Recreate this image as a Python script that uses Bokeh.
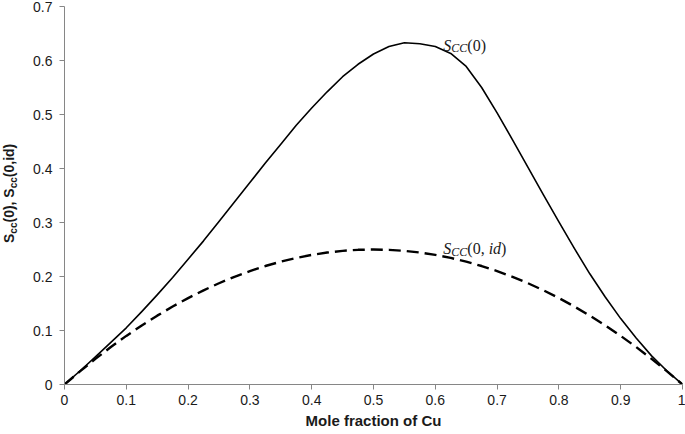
from bokeh.plotting import figure
from bokeh.layouts import row
from bokeh.models import Label, FixedTicker, CustomJSTickFormatter, Range1d, Div
from bokeh.embed import file_html
from bokeh.resources import INLINE

# ---- data ----
mole_fraction = [0, 0.025, 0.05, 0.075, 0.1, 0.125, 0.15, 0.175, 0.2, 0.225, 0.25,
                 0.275, 0.3, 0.325, 0.35, 0.375, 0.4, 0.425, 0.45, 0.475, 0.5,
                 0.525, 0.55, 0.575, 0.6, 0.625, 0.65, 0.675, 0.7, 0.725, 0.75,
                 0.775, 0.8, 0.825, 0.85, 0.875, 0.9, 0.925, 0.95, 0.975, 1.0]
scc0 = [0, 0.025, 0.051, 0.078, 0.105, 0.135, 0.166, 0.198, 0.232, 0.266, 0.302,
        0.338, 0.374, 0.410, 0.445, 0.480, 0.512, 0.542, 0.570, 0.593, 0.612,
        0.626, 0.633, 0.631, 0.626, 0.613, 0.589, 0.550, 0.503, 0.453, 0.402,
        0.351, 0.301, 0.252, 0.205, 0.162, 0.122, 0.086, 0.053, 0.025, 0]
scc0_id = [0, 0.0244, 0.0475, 0.0694, 0.09, 0.1094, 0.1275, 0.1444, 0.16, 0.1744, 0.1875,
           0.1994, 0.21, 0.2194, 0.2275, 0.2344, 0.24, 0.2444, 0.2475, 0.2494, 0.25,
           0.2494, 0.2475, 0.2444, 0.24, 0.2344, 0.2275, 0.2194, 0.21, 0.1994, 0.1875,
           0.1744, 0.16, 0.1444, 0.1275, 0.1094, 0.09, 0.0694, 0.0475, 0.0244, 0]

x_ticks = [0, 0.1, 0.2, 0.3, 0.4, 0.5, 0.6, 0.7, 0.8, 0.9, 1]
x_tick_labels = ["0", "0.1", "0.2", "0.3", "0.4", "0.5", "0.6", "0.7", "0.8", "0.9", "1"]
y_ticks = [0, 0.1, 0.2, 0.3, 0.4, 0.5, 0.6, 0.7]
y_tick_labels = ["0", "0.1", "0.2", "0.3", "0.4", "0.5", "0.6", "0.7"]

x_title = "Mole fraction of Cu"
y_title_pieces = ["S", "cc", "(0), S", "cc", "(0,id)"]
y_title_is_sub = [False, True, False, True, False]
label1_pos = (0.613, 0.628)
label2_pos = (0.613, 0.251)

# ---- style ----
AX = "#868686"
TXT = "#1a1a1a"
SANS = "Liberation Sans"
SERIF = "Liberation Serif"
W, H = 685, 434
LAB_W = 22

# ---- rotated y-axis title (HTML so the subscripts lay out naturally) ----
parts = []
for txt, sub in zip(y_title_pieces, y_title_is_sub):
    if sub:
        parts.append(f'<span style="font-size:10px;vertical-align:-3px">{txt}</span>')
    else:
        parts.append(txt)
y_html = ('<div style="width:max-content;white-space:nowrap;font-family:\'Liberation Sans\',Arial,sans-serif;'
          f'font-weight:bold;font-size:14px;line-height:14px;color:{TXT};margin:0;padding:0;'
          'transform-origin:0 0;transform:translate(1.5px,243px) rotate(-90deg);">'
          + "".join(parts) + '</div>')
ylab = Div(text=y_html, width=LAB_W, height=H, margin=0)

# ---- main plot ----
p = figure(width=W - LAB_W, height=H, output_backend="svg", toolbar_location=None,
           x_range=Range1d(0, 1), y_range=Range1d(0, 0.7),
           min_border_left=64 - LAB_W, min_border_right=3, min_border_top=6, min_border_bottom=50)
p.outline_line_color = None
p.xgrid.visible = False
p.ygrid.visible = False

for ax, ticks, labels in ((p.xaxis[0], x_ticks, x_tick_labels), (p.yaxis[0], y_ticks, y_tick_labels)):
    ax.ticker = FixedTicker(ticks=ticks)
    ax.formatter = CustomJSTickFormatter(args=dict(labels=labels), code="return labels[index];")
    ax.axis_line_color = AX
    ax.axis_line_width = 1
    ax.major_tick_line_color = AX
    ax.major_tick_in = 0
    ax.major_tick_out = 5
    ax.minor_tick_line_color = None
    ax.major_label_text_font = SANS
    ax.major_label_text_font_size = "14px"
    ax.major_label_text_color = TXT
p.xaxis[0].major_label_standoff = 5
p.yaxis[0].major_label_standoff = 7

p.xaxis[0].axis_label = x_title
p.xaxis[0].axis_label_text_font = SANS
p.xaxis[0].axis_label_text_font_size = "15px"
p.xaxis[0].axis_label_text_font_style = "bold"
p.xaxis[0].axis_label_text_color = TXT
p.xaxis[0].axis_label_standoff = 4

p.line(mole_fraction, scc0, line_color="black", line_width=1.6, line_join="round")
p.line(mole_fraction, scc0_id, line_color="black", line_width=2.4, line_dash="12 6")

# ---- in-plot annotations ----
def math_label(pos, pieces):
    off = 0.0
    for txt, style, fs, yoff, w in pieces:
        p.add_layout(Label(x=pos[0], y=pos[1], x_offset=off, y_offset=yoff, text=txt,
                           text_font=SERIF, text_font_style=style, text_font_size=f"{fs}px",
                           text_color=TXT, text_align="left", text_baseline="alphabetic"))
        off += w * fs

math_label(label1_pos, [("S", "italic", 16, 0, 0.5), ("CC", "italic", 12, -3, 1.334),
                        ("(0)", "normal", 16, 0, 1.166)])
math_label(label2_pos, [("S", "italic", 16, 0, 0.5), ("CC", "italic", 12, -3, 1.334),
                        ("(0, ", "normal", 16, 0, 1.333), ("id", "italic", 16, 0, 0.778),
                        (")", "normal", 16, 0, 0.333)])

layout = row(ylab, p, spacing=0)
open("out.html", "w").write(file_html(layout, INLINE))
